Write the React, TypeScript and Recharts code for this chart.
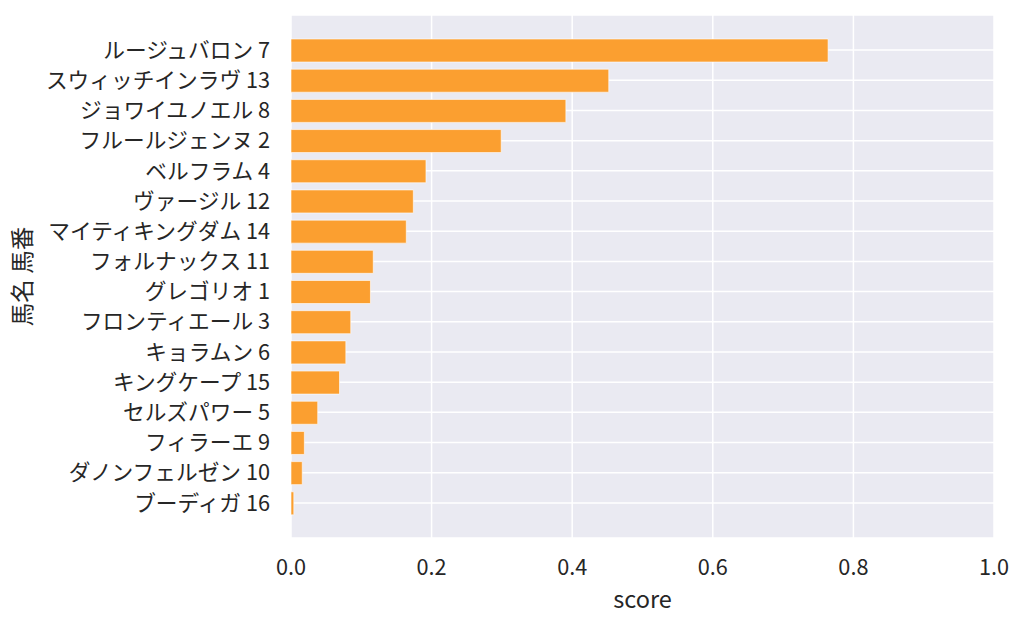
import { BarChart, Bar, XAxis, YAxis, CartesianGrid } from 'recharts';

const horseNames = [
  'ルージュバロン', 'スウィッチインラヴ', 'ジョワイユノエル', 'フルールジェンヌ',
  'ベルフラム', 'ヴァージル', 'マイティキングダム', 'フォルナックス',
  'グレゴリオ', 'フロンティエール', 'キョラムン', 'キングケープ',
  'セルズパワー', 'フィラーエ', 'ダノンフェルゼン', 'ブーディガ',
];
const horseNumbers = [7, 13, 8, 2, 4, 12, 14, 11, 1, 3, 6, 15, 5, 9, 10, 16];
const scores = [
  0.764, 0.452, 0.391, 0.299, 0.192, 0.174, 0.164, 0.117,
  0.113, 0.085, 0.078, 0.069, 0.038, 0.019, 0.016, 0.004,
];
const xTicks = [0, 0.2, 0.4, 0.6, 0.8, 1.0];

const data = horseNames.map((name, i) => ({
  label: `${name} ${horseNumbers[i]}`,
  score: scores[i],
}));

const FONT = '"Noto Sans CJK JP", "Noto Sans", sans-serif';
const TEXT = '#262626';

const App = () => {
  return (
    <div style={{ width: 1024, height: 627, background: '#fff', fontFamily: FONT }}>
      <style>{'body{margin:0}'}</style>
      <BarChart
        width={1024}
        height={627}
        data={data}
        layout="vertical"
        margin={{ top: 15, right: 30, left: 0, bottom: 0 }}
        barSize={23}
      >
        <CartesianGrid fill="#EAEAF2" stroke="#ffffff" strokeWidth={1.5} />
        <XAxis
          type="number"
          domain={[0, 1]}
          ticks={xTicks}
          tickFormatter={(v: number) => v.toFixed(1)}
          axisLine={false}
          tickLine={false}
          tickSize={0}
          tickMargin={22}
          height={89}
          tick={{ fill: TEXT, fontSize: 21.7, fontFamily: FONT }}
          label={{ value: 'score', position: 'insideBottom', offset: 19, fill: TEXT, fontSize: 23.5, fontFamily: FONT }}
        />
        <YAxis
          type="category"
          dataKey="label"
          interval={0}
          width={291}
          axisLine={false}
          tickLine={false}
          tickSize={0}
          tickMargin={21}
          padding={{ top: 20, bottom: 20 }}
          tick={{ fill: TEXT, fontSize: 21.7, fontFamily: FONT }}
          label={{
            value: '馬名 馬番',
            angle: -90,
            position: 'insideLeft',
            offset: 23,
            fill: TEXT,
            fontSize: 23.5,
            fontFamily: FONT,
            style: { textAnchor: 'middle' },
          }}
        />
        <Bar
          dataKey="score"
          fill="#FB9F30"
          stroke="#ffffff"
          strokeOpacity={0.6}
          strokeWidth={1}
          isAnimationActive={false}
        />
      </BarChart>
    </div>
  );
};

export default App;
